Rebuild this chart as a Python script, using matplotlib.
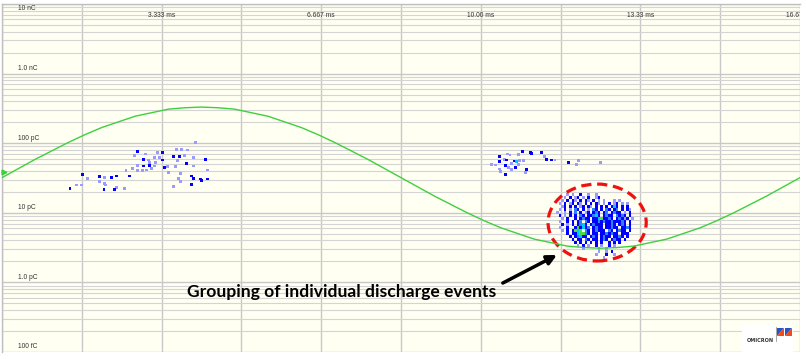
import numpy as np
import matplotlib
matplotlib.use("Agg")
import matplotlib.pyplot as plt
import matplotlib.transforms as mtransforms
from matplotlib.colors import ListedColormap, BoundaryNorm
from matplotlib.patches import Ellipse, Rectangle, Polygon

# phase axis (ms) - one 60 Hz cycle
period_ms = 16.667
xlabel_pos = [3.333, 6.667, 10.0, 13.333, 16.667]
xlabel_txt = ["3.333 ms", "6.667 ms", "10.00 ms", "13.33 ms", "16.67 ms"]

# charge axis (pC)
ylabel_pos = [1e4, 1e3, 1e2, 1e1, 1e0, 1e-1]
ylabel_txt = ["10 nC", "1.0 nC", "100 pC", "10 pC", "1.0 pC", "100 fC"]

# test voltage (normalised), read every 1/48 of the cycle
volt = [0.00, 0.13, 0.26, 0.38, 0.50, 0.61, 0.71, 0.79, 0.87, 0.92, 0.97, 0.99,
        1.00, 0.99, 0.97, 0.92, 0.87, 0.79, 0.71, 0.61, 0.50, 0.38, 0.26, 0.13,
        0.00, -0.13, -0.26, -0.38, -0.50, -0.61, -0.71, -0.79, -0.87, -0.92, -0.97, -0.99,
        -1.00, -0.99, -0.97, -0.92, -0.87, -0.79, -0.71, -0.61, -0.50, -0.38, -0.26, -0.13,
        0.00]

# sparse cluster, rising half-cycle (ms, pC, count level)
c1_t = [4.05, 2.83, 2.99, 3.25, 3.36, 3.65, 3.75, 3.88, 2.76, 3.18, 3.29, 3.58, 3.70,
        3.82, 4.00, 2.95, 3.06, 3.36, 3.66, 4.26, 3.09, 3.20, 3.86, 2.83, 2.95, 3.08,
        3.18, 3.13, 3.40, 3.45, 3.63, 4.00, 2.72, 2.59, 2.83, 2.93, 3.02, 3.47, 3.72,
        4.30, 1.69, 1.79, 2.03, 2.03, 2.15, 2.29, 2.40, 2.66, 3.68, 3.96, 4.00, 4.14,
        4.17, 4.29, 3.72, 3.95, 2.14, 2.17, 1.67, 1.56, 3.59, 2.40, 2.35, 2.55, 2.13, 1.42]
c1_q = [103, 75.5, 70.0, 73.1, 73.1, 81.7, 81.7, 79.8, 66.1, 62.7, 62.7, 63.9, 63.9,
        66.1, 62.7, 58.7, 57.4, 57.4, 56.1, 58.0, 53.2, 53.2, 51.4, 47.5, 47.0, 47.5,
        47.0, 43.6, 44.4, 45.9, 45.9, 47.0, 43.6, 40.3, 40.3, 40.0, 41.2, 37.7, 37.0,
        41.2, 35.7, 31.3, 33.0, 28.6, 32.4, 32.4, 33.8, 33.8, 31.3, 33.8, 31.3, 30.6,
        28.9, 30.6, 28.6, 25.9, 26.5, 25.1, 25.1, 25.1, 23.7, 22.9, 21.8, 22.5, 21.3, 22.0]
c1_n = [1, 2, 1, 1, 2, 1, 1, 1, 1, 1, 1, 2, 2,
        1, 1, 2, 1, 2, 1, 2, 1, 1, 2, 1, 2, 2,
        1, 1, 2, 1, 1, 1, 1, 1, 1, 1, 1, 1, 1,
        1, 2, 1, 2, 1, 1, 2, 2, 2, 1, 2, 2, 2,
        2, 2, 1, 2, 1, 1, 1, 1, 1, 1, 2, 1, 2, 2]

# sparse cluster, start of falling half-cycle
c2_t = [10.87, 11.03, 11.06, 11.27, 11.33, 10.78, 10.56, 10.61, 10.40, 10.49, 10.54,
        10.70, 10.75, 10.80, 10.89, 11.38, 11.47, 11.55, 10.23, 10.30, 10.40, 10.65,
        10.78, 10.52, 10.58, 10.40, 10.72, 10.65, 10.96, 10.94, 10.51, 10.42, 11.83,
        12.04, 11.99, 12.51]
c2_q = [75.5, 74.1, 71.6, 74.1, 63.9, 69.3, 70.0, 67.7, 63.9, 58.7, 57.4,
        55.5, 54.2, 56.1, 56.1, 58.7, 57.4, 57.4, 50.2, 48.6, 54.2, 51.4,
        49.8, 47.5, 45.1, 42.6, 44.4, 42.1, 42.1, 38.2, 35.7, 39.0, 52.5,
        56.1, 50.2, 53.2]
c2_n = [2, 2, 2, 2, 1, 1, 1, 1, 2, 1, 2,
        2, 4, 1, 1, 2, 2, 1, 1, 1, 2, 1,
        1, 2, 1, 1, 2, 1, 2, 1, 2, 1, 2,
        1, 1, 1]

# dense group near the voltage minimum: phase/charge histogram
# ('.' empty, 1..5 = increasing count), rows from high to low charge
dense_t0 = 11.57      # ms, left edge of first phase bin
dense_dt = 0.0543     # ms per phase bin
dense_q_top = 19.3    # pC
dense_q_bot = 2.17    # pC
dense_rows = [
    "....1.1..2..1..1..............",
    "...1.2.12.1.2..12.............",
    "..1.2.21.2.21.2.1.1...1.1.....",
    ".1.2.12.21.2.2.21.1.2.12.1.1..",
    "..12.2.2.12.21.2.2.2.242.2.2..",
    ".1.2.1.32.2.1.32.2.32.23.2.21.",
    "1..1.2.3.2.12.232.23.2322.1.2.",
    ".2.1.2.2.32.22342.2322.3232.2.",
    "..1.2..2.2322.22452232.23212.1",
    ".1..2.2.23.32.2232322322232.2.",
    "..2.1.2.2342.23222.2232.232.2.",
    ".1..2..252423.2322.22322.2232.",
    "..1.2.2545.32.23222.32.2322.2.",
    "....2.2245532.22.2232322.222..",
    ".....2.23422.232.2322.2232.2..",
    "......2.22.32.22.232.2322.2...",
    ".......2.2.2.2.2.2..2.2.2.....",
    "........1.2.1..2.1..2.1.......",
    "..........1.....1..1..........",
    "................1..1.2........",
    "...............1...2..1.......",
    "..................1...........",
]

# highlighted group (centre in ms / pC)
mark_t, mark_q = 12.43, 7.25

cmap = ListedColormap(["#9a9aff", "#0000ff", "#2a80ff", "#00c8ff", "#44e044"])
norm = BoundaryNorm([0.5, 1.5, 2.5, 3.5, 4.5, 5.5], cmap.N)

W, H = 806, 359
fig = plt.figure(figsize=(W / 100, H / 100), dpi=100)
ax = fig.add_axes([2 / W, 7 / H, 798 / W, 348 / H])
ax.set_facecolor("#fffff2")
ax.set_yscale("log")
ax.set_xlim(0, period_ms)
ax.set_ylim(0.1, 1e4)

# grid
ax.set_xticks(np.linspace(0, period_ms, 11))
ax.yaxis.set_major_locator(matplotlib.ticker.LogLocator(base=10, numticks=10))
ax.yaxis.set_minor_locator(matplotlib.ticker.LogLocator(base=10, subs=np.arange(2, 10), numticks=50))
ax.grid(True, which="major", axis="both", color="#c8c8c8", lw=1.0)
ax.grid(True, which="minor", axis="y", color="#d4d4d4", lw=0.8)
ax.set_axisbelow(True)
ax.tick_params(which="both", length=0, labelleft=False, labelbottom=False)
for s in ax.spines.values():
    s.set_color("#c0c0c0")
    s.set_linewidth(1.0)
ax.spines["bottom"].set_visible(False)
ax.spines["right"].set_visible(False)

# axis labels drawn inside the plot (the last one is cut by the edge, as in the original)
for xp, txt in zip(xlabel_pos, xlabel_txt):
    ax.text(xp, 0.968, txt, transform=ax.get_xaxis_transform(), ha="center", va="center",
            fontsize=4.8, family="Liberation Sans", color="#333333", clip_on=True)
for i, (yp, txt) in enumerate(zip(ylabel_pos, ylabel_txt)):
    if i == 0:
        ax.annotate(txt, (0.02, yp), xycoords=("axes fraction", "data"), xytext=(0, -1.5),
                    textcoords="offset pixels", ha="left", va="top", fontsize=4.8,
                    family="Liberation Sans", color="#333333")
    else:
        ax.annotate(txt, (0.02, yp), xycoords=("axes fraction", "data"), xytext=(0, 1.5),
                    textcoords="offset pixels", ha="left", va="bottom", fontsize=4.8,
                    family="Liberation Sans", color="#333333")

# discharge data
ax.scatter(c1_t, c1_q, c=c1_n, cmap=cmap, norm=norm, marker="s", s=4.5, linewidths=0)
ax.scatter(c2_t, c2_q, c=c2_n, cmap=cmap, norm=norm, marker="s", s=4.5, linewidths=0)
counts = np.array([[0 if ch == "." else int(ch) for ch in row] for row in dense_rows])
t_edges = dense_t0 + dense_dt * np.arange(counts.shape[1] + 1)
q_edges = np.geomspace(dense_q_top, dense_q_bot, counts.shape[0] + 1)
t_mid = (t_edges[:-1] + t_edges[1:]) / 2
q_mid = np.sqrt(q_edges[:-1] * q_edges[1:])
rr, cc = np.nonzero(counts)
ax.scatter(t_mid[cc], q_mid[rr], c=counts[rr, cc], cmap=cmap, norm=norm, marker="s",
           s=3.4, linewidths=0)

# voltage reference on its own linear scale
ax2 = ax.twinx()
ax2.set_ylim(-2.47, 2.46)
ax2.set_yticks([])
for s in ax2.spines.values():
    s.set_visible(False)
t_volt = np.linspace(0, period_ms, len(volt))
ax2.plot(t_volt, volt, color="#3fcf3f", lw=1.0)
ax2.plot([0.04], [0.08], marker=">", color="#3fcf3f", ms=3.5, clip_on=False)

# annotation
ax2.text(3.86, 0.617, "Grouping of individual discharge events", transform=ax.transData,
         ha="left", va="baseline", fontsize=12.6, family="Lato", fontweight="bold",
         color="black")
ax2.annotate("", xy=(11.59, 2.48), xycoords=ax.transData,
             xytext=(10.46, 0.98), textcoords=ax.transData,
             arrowprops=dict(arrowstyle="-|>", color="black", lw=2.5,
                             mutation_scale=14, shrinkA=0, shrinkB=0))
fig.canvas.draw()
cx, cy = ax.transAxes.inverted().transform(ax.transData.transform((mark_t, mark_q)))
ax2.add_patch(Ellipse((cx, cy), 0.123, 0.221, transform=ax.transAxes, fill=False,
                      edgecolor="#f01010", lw=2.3, linestyle=(0, (3.2, 1.8))))

# logo box (pixel coordinates of the figure)
pix = mtransforms.Affine2D().scale(1 / W, -1 / H).translate(0, 1) + fig.transFigure
fig.add_artist(Rectangle((742, 325), 51, 27, transform=pix, facecolor="white", edgecolor="none"))
fig.text(760, 340, "OMICRON", transform=pix, ha="center", va="center", fontsize=3.6,
         fontweight="bold", family="DejaVu Sans", color="#333333")
fig.add_artist(plt.Line2D([776, 776], [327, 341], transform=pix, color="#999999", lw=0.6))
for x0 in (777, 785):
    fig.add_artist(Polygon([(x0, 328), (x0 + 7, 328), (x0, 336)], transform=pix,
                           facecolor="#2a55c8", edgecolor="none"))
    fig.add_artist(Polygon([(x0 + 7, 328), (x0 + 7, 336), (x0, 336)], transform=pix,
                           facecolor="#ee4a1a", edgecolor="none"))

fig.savefig("out.png", dpi=100, facecolor="white")
